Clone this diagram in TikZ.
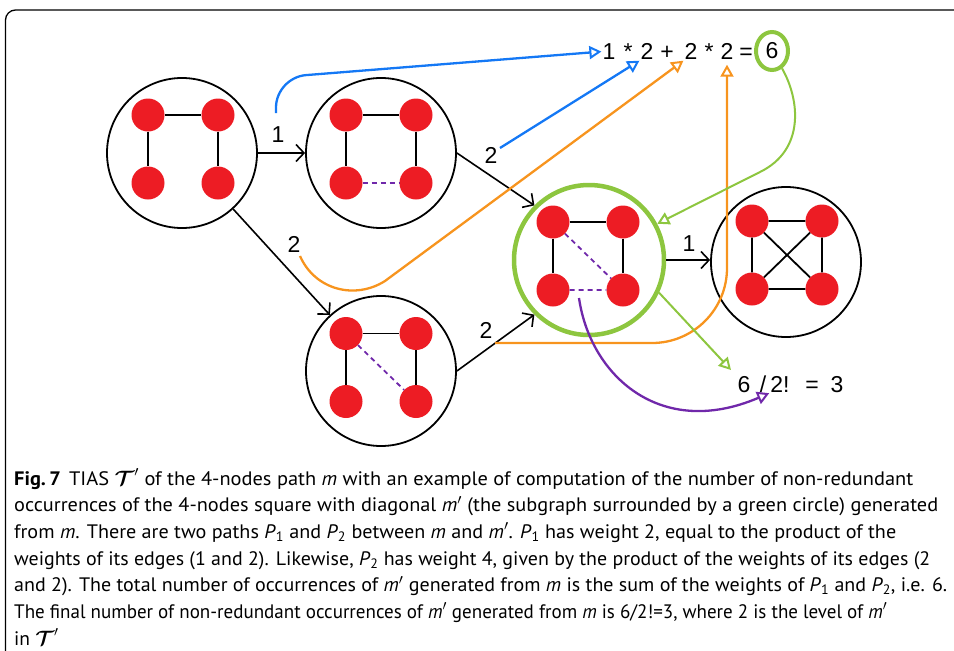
\documentclass[tikz,border=0pt]{standalone}
\usepackage{fontspec}
\usepackage{bm}
\usepackage{graphicx}
\setmainfont{PT Sans}
\newfontfamily\arialf{Liberation Sans}
\usetikzlibrary{arrows.meta,shapes.geometric}
\definecolor{nodered}{RGB}{237,28,36}
\definecolor{mgreen}{RGB}{141,198,63}
\definecolor{morange}{RGB}{247,148,30}
\definecolor{mblue}{RGB}{20,120,245}
\definecolor{mpurple}{RGB}{112,40,170}
\newcommand\quadnodes[3]{%
  \node[vert] (#1a) at (#2-35,#3-34) {};
  \node[vert] (#1b) at (#2+35,#3-34) {};
  \node[vert] (#1c) at (#2-35,#3+34) {};
  \node[vert] (#1d) at (#2+35,#3+34) {};}
\newcommand\capfit[2]{\resizebox{#1}{\height}{#2}}
\tikzset{
  vert/.style={circle, fill=nodered, minimum size=33pt, inner sep=0pt},
  motif/.style={circle, draw, line width=1.8pt, minimum size=150pt, inner sep=0pt},
  gedge/.style={line width=1.8pt},
  dedge/.style={line width=1.8pt, draw=mpurple, dash pattern=on 5pt off 4pt},
  barrow/.style={line width=1.6pt, -{Straight Barb[length=8pt,width=17pt,line width=1.6pt]}},
  carrow/.style={line width=2.3pt, -{Triangle[open, length=12pt, width=13pt, line width=2pt]}},
  lbl/.style={font=\arialf\fontsize{23}{23}\selectfont, inner sep=1pt},
  capline/.style={anchor=base west, inner sep=0pt, font=\fontsize{19.5}{23}\selectfont}
}
\begin{document}
\begin{tikzpicture}[x=1pt,y=-1pt]
\useasboundingbox (0,0) rectangle (954,651);
% frame
\draw[line width=1.3pt, rounded corners=10pt] (5.5,651) -- (5.5,10) -- (954,10);

% motifs
\node[motif] (c1) at (182,153) {};
\node[motif] (c2) at (381,153) {};
\node[motif] (c3) at (381,371) {};
\node[motif, draw=mgreen, line width=4.5pt] (c4) at (589,260) {};
\node[motif] (c5) at (786,262) {};

\quadnodes{c1}{183}{149}
\quadnodes{c2}{381}{149}
\quadnodes{c3}{381}{367.5}
\quadnodes{c4}{588}{256}
\quadnodes{c5}{787}{255}

% motif edges
\draw[gedge] (c1a) -- (c1b) (c1a) -- (c1c) (c1b) -- (c1d);
\draw[gedge] (c2a) -- (c2b) (c2a) -- (c2c) (c2b) -- (c2d);
\draw[dedge] (c2c) -- (c2d);
\draw[gedge] (c3a) -- (c3b) (c3a) -- (c3c) (c3b) -- (c3d);
\draw[dedge] (c3a) -- (c3d);
\draw[gedge] (c4a) -- (c4b) (c4a) -- (c4c) (c4b) -- (c4d);
\draw[dedge] (c4a) -- (c4d) (c4c) -- (c4d);
\draw[gedge] (c5a) -- (c5b) (c5a) -- (c5c) (c5b) -- (c5d) (c5c) -- (c5d) (c5a) -- (c5d) (c5b) -- (c5c);

% black transitions
\draw[barrow] (c1.east) -- (c2.west);
\draw[barrow] (c1) -- (c3);
\draw[barrow] (c2.east) -- (c4.north west);
\draw[barrow] (c3.east) -- (c4.south west);
\draw[barrow] (c4.east) -- (c4.east -| c5.west);

% weight labels
\node[lbl] (l1) at (278,135) {1};
\node[lbl] (l2) at (294,244) {2};
\node[lbl] (l3) at (491,155) {2};
\node[lbl] (l4) at (486,330) {2};
\node[lbl] (l5) at (689,244) {1};

% formula
\node[lbl, anchor=base] (f1) at (609,59.5) {1};
\node[lbl, anchor=base] (fm1) at (628,59.5) {*};
\node[lbl, anchor=base] (f2) at (647,59.5) {2};
\node[lbl, anchor=base] (fp) at (667,59.5) {+};
\node[lbl, anchor=base] (f3) at (691,59.5) {2};
\node[lbl, anchor=base] (fm2) at (709,59.5) {*};
\node[lbl, anchor=base] (f4) at (727,59.5) {2};
\node[lbl, anchor=base] (feq) at (746,59.5) {=};
\node[lbl, ellipse, draw=mgreen, line width=4pt, minimum width=32pt, minimum height=38pt, inner sep=0pt] (g6) at (772,51) {6};

% result
\node[lbl, anchor=base] (r6) at (744,392) {6};
\node[lbl, anchor=base] (rsl) at (763,392) {/};
\node[lbl, anchor=base] (r2) at (780,392) {2!};
\node[lbl, anchor=base] (req) at (812,392) {=};
\node[lbl, anchor=base] (r3) at (837,392) {3};

% coloured paths
\coordinate (b1s) at (276,113);
\coordinate (b1c) at (276,77.5);
\draw[carrow, draw=mblue, rounded corners=30pt] (b1s) -- (b1c) -- (f1.west);
\coordinate (b2s) at (500,148);
\draw[carrow, draw=mblue] (b2s) -- (f2.south west);
\coordinate (o1s) at (300,256);
\draw[carrow, draw=morange] (o1s) .. controls (315,290) and (355,300) .. (385,281) -- (f3.south west);
\coordinate (o2s) at (495,343);
\draw[carrow, draw=morange, rounded corners=75pt, shorten >=4pt] (o2s) -| (f4.south);
\draw[carrow, draw=mgreen, line width=2pt] (g6.-60) .. controls (800,100) and (805,150) .. (760,172) -- (c4.28);
\coordinate (g2e) at (731,370);
\draw[carrow, draw=mgreen, line width=2pt] (c4.-25) -- (g2e);
\coordinate (p1s) at (579,298);
\draw[carrow, draw=mpurple] (p1s) .. controls (590,375) and (660,440) .. (r2.south west);

% caption
\node[capline] (cap1) at (14,485) {\capfit{899pt}{\textbf{Fig.\,7}\hspace{0.4em}TIAS $\bm{\mathcal{T}}'$ of the 4-nodes path \textit{m} with an example of computation of the number of non-redundant}};
\node[capline] (cap2) at (14,511.7) {\capfit{924pt}{occurrences of the 4-nodes square with diagonal \textit{m}$'$ (the subgraph surrounded by a green circle) generated}};
\node[capline] (cap3) at (14,538.4) {\capfit{882pt}{from \textit{m}. There are two paths \textit{P}\textsubscript{1} and \textit{P}\textsubscript{2} between \textit{m} and \textit{m}$'$. \textit{P}\textsubscript{1} has weight 2, equal to the product of the}};
\node[capline] (cap4) at (14,565.1) {\capfit{916pt}{weights of its edges (1 and 2). Likewise, \textit{P}\textsubscript{2} has weight 4, given by the product of the weights of its edges (2}};
\node[capline] (cap5) at (14,591.8) {\capfit{933pt}{and 2). The total number of occurrences of \textit{m}$'$ generated from \textit{m} is the sum of the weights of \textit{P}\textsubscript{1} and \textit{P}\textsubscript{2}, i.e. 6.}};
\node[capline] (cap6) at (14,618.5) {\capfit{873pt}{The final number of non-redundant occurrences of \textit{m}$'$ generated from \textit{m} is 6/2!=3, where 2 is the level of \textit{m}$'$}};
\node[capline] (cap7) at (14,645.2) {in $\bm{\mathcal{T}}'$};
\end{tikzpicture}
\end{document}
